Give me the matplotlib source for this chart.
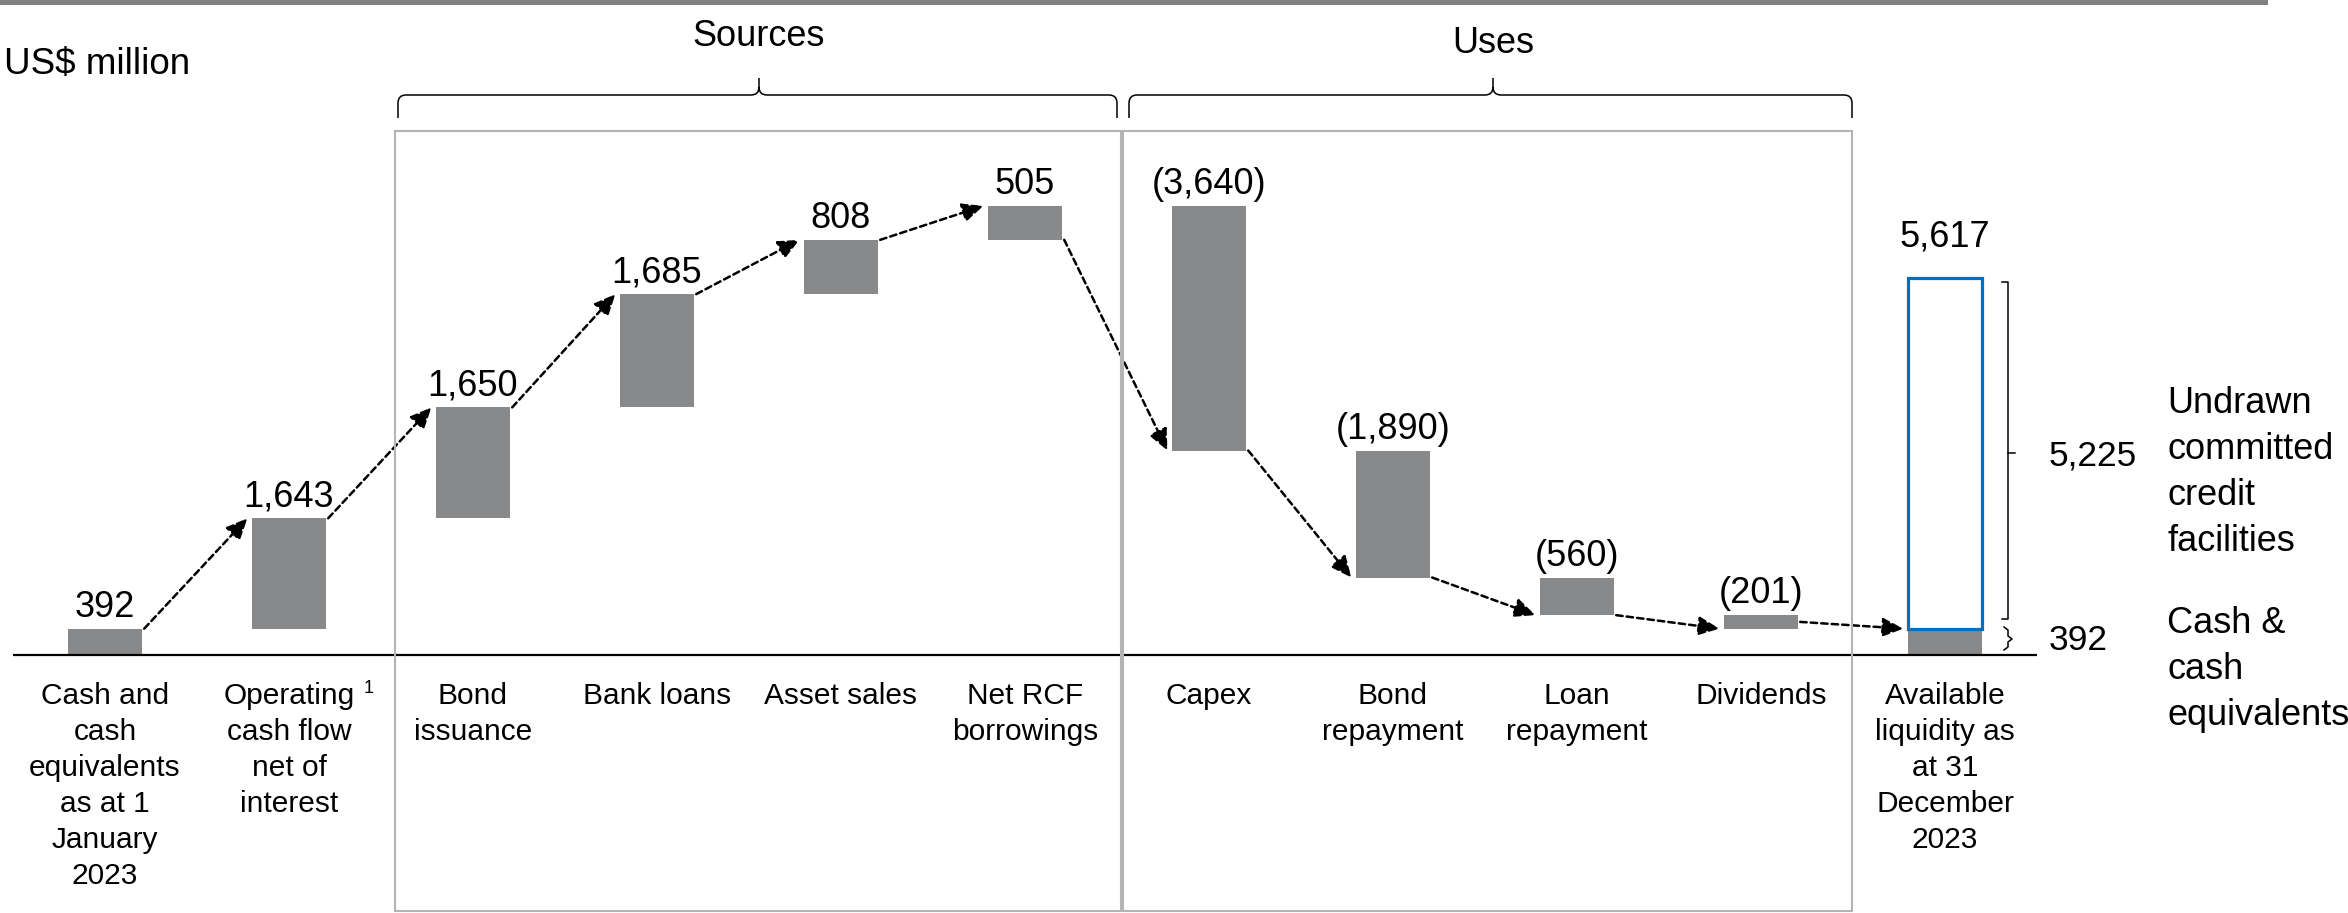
import matplotlib.pyplot as plt
from matplotlib.patches import Rectangle, PathPatch
from matplotlib.path import Path

plt.rcParams['font.family'] = ['Liberation Sans', 'DejaVu Sans']

# data (US$ million)
categories = ["Cash and\ncash\nequivalents\nas at 1\nJanuary\n2023",
              "Operating\ncash flow\nnet of\ninterest",
              "Bond\nissuance", "Bank loans", "Asset sales", "Net RCF\nborrowings",
              "Capex", "Bond\nrepayment", "Loan\nrepayment", "Dividends",
              "Available\nliquidity as\nat 31\nDecember\n2023"]
changes = [392, 1643, 1650, 1685, 808, 505, -3640, -1890, -560, -201]
closing_cash = 392
undrawn_facilities = 5225

W, H = 2348, 913
GREY = '#87898a'
BLUE = '#0070c0'
BOX = '#b4b4b4'

fig = plt.figure(figsize=(W / 100, H / 100), dpi=100)
ax = fig.add_axes([0, 0, 1, 1])
# 184 px per category, 0.0672 px per US$ million, baseline at row 655
ax.set_xlim(-105 / 184, (W - 105) / 184)
ax.set_ylim(-(H - 655) / 0.0672, 655 / 0.0672)
ax.axis('off')


def fp(x, y):
    # pixel (from top-left) -> figure fraction
    return x / W, 1 - y / H


# waterfall bars
bottoms, heights = [], []
level = 0
for v in changes:
    bottoms.append(level if v >= 0 else level + v)
    heights.append(abs(v))
    level += v
tops = [b + h for b, h in zip(bottoms, heights)]

bw = 0.402
ax.bar(range(len(changes)), heights, bottom=bottoms, width=bw, color=GREY, zorder=3)
last = len(changes)
ax.bar(last, closing_cash, width=bw, color=GREY, zorder=3)
ax.bar(last, undrawn_facilities, bottom=closing_cash, width=bw, fill=False,
       edgecolor=BLUE, linewidth=2.3, zorder=4)

# value labels
for i, v in enumerate(changes):
    txt = f"{v:,}" if v > 0 else f"({-v:,})"
    ax.annotate(txt, (i, tops[i]), xytext=(0, 8.5), textcoords='offset points',
                ha='center', va='baseline', fontsize=26)
total = closing_cash + undrawn_facilities
ax.annotate(f"{total:,}", (last, total), xytext=(0, 22), textcoords='offset points',
            ha='center', va='baseline', fontsize=26)

# connecting dashed arrows
for i in range(len(changes)):
    if i + 1 == len(changes):
        start, end = bottoms[i] + heights[i] / 2, closing_cash
    elif changes[i + 1] > 0:
        start, end = tops[i], tops[i + 1]
    else:
        start, end = bottoms[i], bottoms[i + 1]
    ax.annotate('', xy=(i + 1 - bw / 2 - 0.025, end), xytext=(i + bw / 2 + 0.012, start),
                arrowprops=dict(arrowstyle='-|>,head_length=0.4,head_width=0.18',
                                mutation_scale=32, color='black', lw=1.8,
                                linestyle=(0, (2.6, 1.6)), shrinkA=0, shrinkB=0),
                zorder=5)

# baseline
ax.hlines(0, -0.5, last + 0.5, color='black', lw=1.6, zorder=4)

# category labels
for i, lab in enumerate(categories):
    ax.annotate(lab, (i, 0), xytext=(0, -19.5), textcoords='offset points',
                ha='center', va='top', fontsize=21.5, linespacing=1.36)
ax.annotate('1', (1, 0), xytext=(57, -18), textcoords='offset points',
            ha='center', va='top', fontsize=13)

# section boxes
for x0, x1 in [(395, 1121), (1123, 1852)]:
    fig.add_artist(Rectangle(fp(x0, 911), (x1 - x0) / W, (911 - 131) / H,
                             transform=fig.transFigure, fill=False,
                             edgecolor=BOX, lw=1.5))


# curly braces over sections
def brace(x0, x1, xm, yh=95, yend=118, ytip=78, r=8):
    verts = [(x0, yend), (x0, yh + r), (x0, yh), (x0 + r, yh),
             (xm - r, yh), (xm, yh), (xm, yh - r), (xm, ytip),
             (xm, yh - r), (xm, yh), (xm + r, yh),
             (x1 - r, yh), (x1, yh), (x1, yh + r), (x1, yend)]
    codes = [Path.MOVETO, Path.LINETO, Path.CURVE3, Path.CURVE3,
             Path.LINETO, Path.CURVE3, Path.CURVE3, Path.LINETO,
             Path.MOVETO, Path.CURVE3, Path.CURVE3,
             Path.LINETO, Path.CURVE3, Path.CURVE3, Path.LINETO]
    path = Path([fp(*v) for v in verts], codes)
    fig.add_artist(PathPatch(path, transform=fig.transFigure, fill=False,
                             edgecolor='black', lw=1.1))


brace(398, 1117, 759)
brace(1129, 1852, 1493)
fig.text(*fp(759, 46), "Sources", ha='center', va='baseline', fontsize=26)
fig.text(*fp(1493, 53), "Uses", ha='center', va='baseline', fontsize=26)
fig.text(*fp(4, 74), "US$ million", ha='left', va='baseline', fontsize=26.5)

# top rule
fig.add_artist(Rectangle(fp(0, 5), 2268 / W, 5 / H, transform=fig.transFigure,
                         color='#808080', lw=0))

# bracket for the undrawn facilities
bx = last + 0.342
ax.plot([bx - 0.03, bx, bx, bx - 0.03], [total - 60, total - 60, closing_cash + 140,
                                          closing_cash + 140], color='black', lw=1.1)
ax.plot([bx, bx + 0.04], [(total + closing_cash) / 2] * 2, color='black', lw=1.1)
# small brace for cash
sb = [(2004, 627), (2008, 630), (2008, 636), (2012, 639), (2008, 642), (2008, 647), (2004, 650)]
fig.add_artist(plt.Line2D([fp(*p)[0] for p in sb], [fp(*p)[1] for p in sb],
                          transform=fig.transFigure, color='black', lw=1.1))

tx = last + 0.565
ax.annotate(f"{undrawn_facilities:,}", (tx, (total + closing_cash) / 2), xytext=(0, -9),
            textcoords='offset points', ha='left', va='baseline', fontsize=25.5)
ax.annotate(f"{closing_cash:,}", (tx, 0), xytext=(0, 3.5), textcoords='offset points',
            ha='left', va='baseline', fontsize=25.5)
lx = last + 1.207
ax.annotate("Undrawn\ncommitted\ncredit\nfacilities", (lx, 0), xytext=(0, (655 - 386) * 0.72),
            textcoords='offset points', ha='left', va='top', fontsize=26, linespacing=1.41)
ax.annotate("Cash &\ncash\nequivalents", (lx, 0), xytext=(0, (655 - 606) * 0.72),
            textcoords='offset points', ha='left', va='top', fontsize=26, linespacing=1.41,
            annotation_clip=False)

fig.savefig('out.png', dpi=100)
